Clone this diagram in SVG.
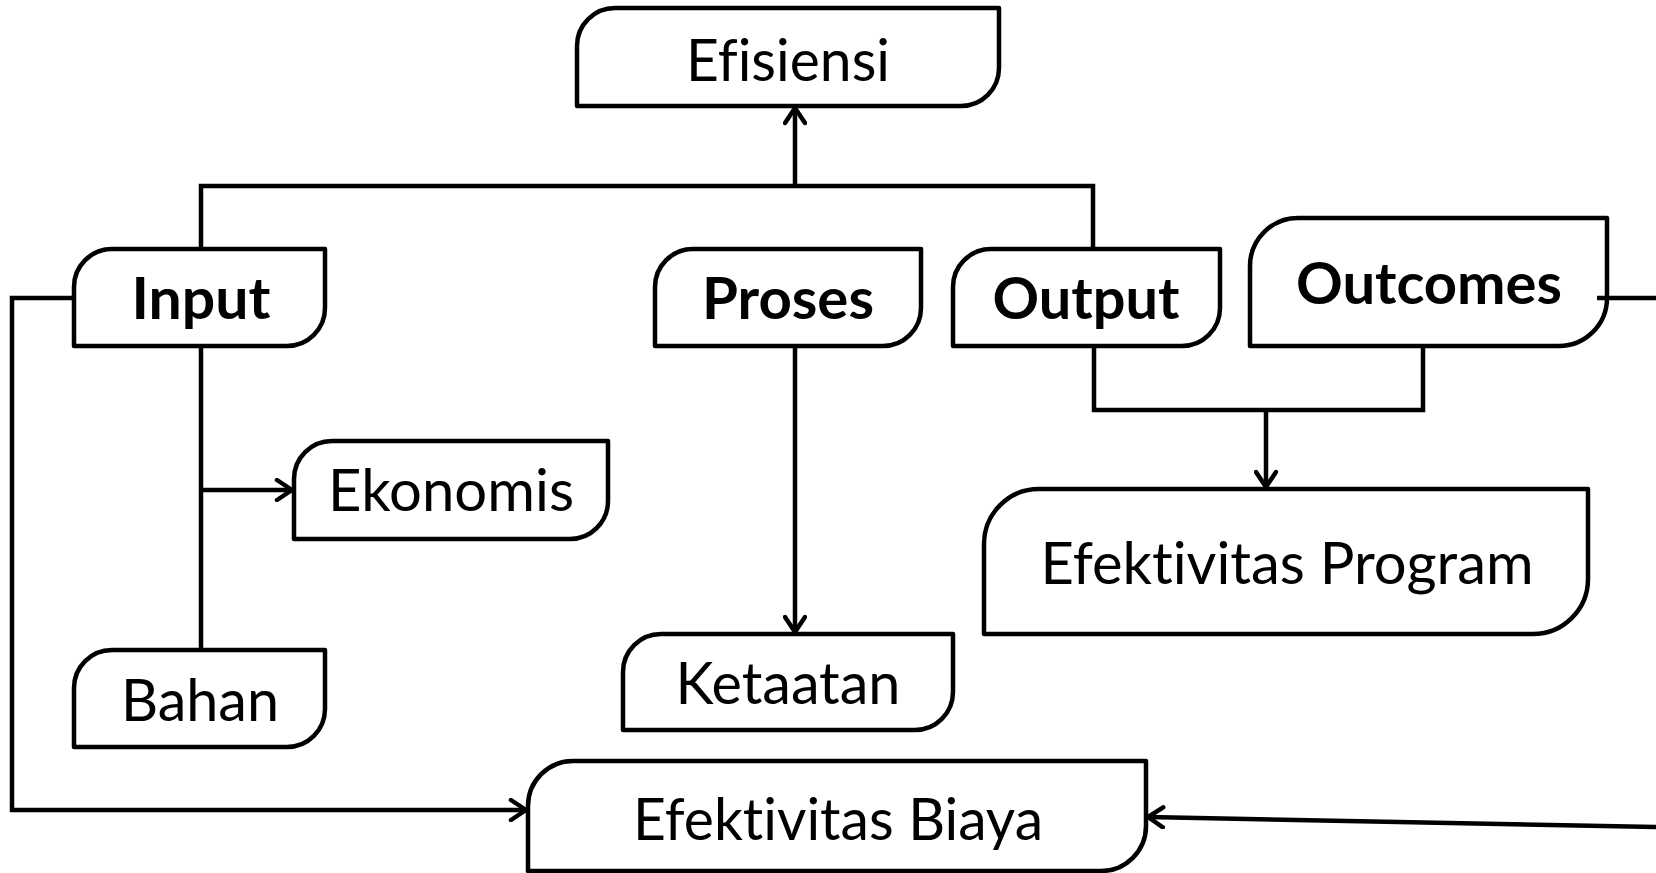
<svg xmlns="http://www.w3.org/2000/svg" width="1656" height="873" viewBox="0 0 1656 873">
<style>
.box{fill:#fff;stroke:#000;stroke-width:4.5;stroke-linejoin:round}
.lbl{font-family:Lato,"Open Sans","Liberation Sans",sans-serif;font-size:58px;fill:#000;text-anchor:middle;font-variant-ligatures:none;font-feature-settings:"liga" 0,"clig" 0}
.b{font-weight:bold}
.con{fill:none;stroke:#000;stroke-width:4.5}
</style>
<defs>
<marker id="arr" viewBox="0 0 20 24" refX="18" refY="12" markerWidth="20" markerHeight="24" markerUnits="userSpaceOnUse" orient="auto">
<path d="M3,2 L18,12 L3,22" fill="none" stroke="#000" stroke-width="4.5" stroke-linecap="round" stroke-linejoin="round"/>
</marker>
</defs>
<rect width="1656" height="873" fill="#fff"/>
<g id="efisiensi"><path class="box" d="M577 106 V46 A38 38 0 0 1 615 8 H999 V68 A38 38 0 0 1 961 106 Z"/><text class="lbl" x="788" y="81" textLength="204" lengthAdjust="spacingAndGlyphs">Efisiensi</text></g>
<g id="input"><path class="box" d="M74 346 V287 A38 38 0 0 1 112 249 H325 V308 A38 38 0 0 1 287 346 Z"/><text class="lbl b" x="201" y="319" textLength="139" lengthAdjust="spacingAndGlyphs">Input</text></g>
<g id="proses"><path class="box" d="M655 346 V287 A38 38 0 0 1 693 249 H921 V308 A38 38 0 0 1 883 346 Z"/><text class="lbl b" x="788" y="319" textLength="172" lengthAdjust="spacingAndGlyphs">Proses</text></g>
<g id="output"><path class="box" d="M953 346 V287 A38 38 0 0 1 991 249 H1220 V308 A38 38 0 0 1 1182 346 Z"/><text class="lbl b" x="1086" y="319" textLength="187" lengthAdjust="spacingAndGlyphs">Output</text></g>
<g id="outcomes"><path class="box" d="M1250 346 V266 A48 48 0 0 1 1298 218 H1607 V298 A48 48 0 0 1 1559 346 Z"/><text class="lbl b" x="1429" y="304" textLength="266" lengthAdjust="spacingAndGlyphs">Outcomes</text></g>
<g id="ekonomis"><path class="box" d="M294 539 V479 A38 38 0 0 1 332 441 H608 V501 A38 38 0 0 1 570 539 Z"/><text class="lbl" x="451" y="511" textLength="246" lengthAdjust="spacingAndGlyphs">Ekonomis</text></g>
<g id="bahan"><path class="box" d="M74 747 V688 A38 38 0 0 1 112 650 H325 V709 A38 38 0 0 1 287 747 Z"/><text class="lbl" x="200" y="721" textLength="158" lengthAdjust="spacingAndGlyphs">Bahan</text></g>
<g id="ketaatan"><path class="box" d="M623 730 V672 A38 38 0 0 1 661 634 H953 V692 A38 38 0 0 1 915 730 Z"/><text class="lbl" x="788" y="704" textLength="225" lengthAdjust="spacingAndGlyphs">Ketaatan</text></g>
<g id="efektivitas-program"><path class="box" d="M984 634 V544 A55 55 0 0 1 1039 489 H1588 V579 A55 55 0 0 1 1533 634 Z"/><text class="lbl" x="1287" y="584" textLength="493" lengthAdjust="spacingAndGlyphs">Efektivitas Program</text></g>
<g id="efektivitas-biaya"><path class="box" d="M528 871 V806 A45 45 0 0 1 573 761 H1146 V826 A45 45 0 0 1 1101 871 Z"/><text class="lbl" x="838" y="840" textLength="410" lengthAdjust="spacingAndGlyphs">Efektivitas Biaya</text></g>
<g id="connectors">
<path class="con" d="M201 249 V186 H1093 V249"/>
<path class="con" d="M795 186 V108" marker-end="url(#arr)"/>
<path class="con" d="M201 346 V650"/>
<path class="con" d="M201 490 H292" marker-end="url(#arr)"/>
<path class="con" d="M74 298 H12 V810 H526" marker-end="url(#arr)"/>
<path class="con" d="M795 346 V632" marker-end="url(#arr)"/>
<path class="con" d="M1094 346 V410 H1423 V346"/>
<path class="con" d="M1266 410 V487" marker-end="url(#arr)"/>
<path class="con" d="M1597 298 H1656"/>
<path class="con" d="M1656 827 L1148 817" marker-end="url(#arr)"/>
</g>
</svg>
